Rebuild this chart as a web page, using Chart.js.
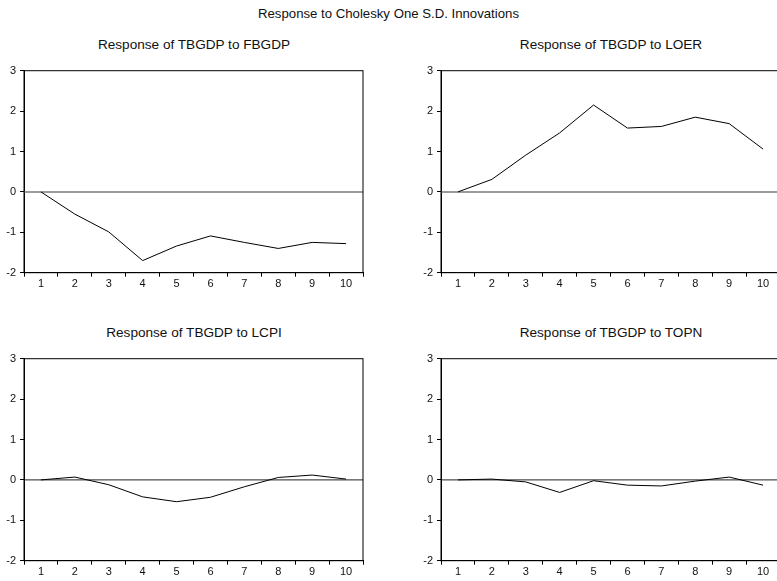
<!DOCTYPE html>
<html>
<head>
<meta charset="utf-8">
<script src="https://cdn.jsdelivr.net/npm/chart.js@4.4.1/dist/chart.umd.min.js"></script>
<style>
  html, body { margin: 0; padding: 0; background: #fff; overflow: hidden; }
  #wrap { position: relative; width: 777px; height: 581px; overflow: hidden; }
  #main-title { position: absolute; left: 0; top: 6px; width: 777px; text-align: center;
    font: 13.2px "Liberation Sans", Arial, sans-serif; color: #111; }
  .ptitle { position: absolute; width: 340px; text-align: center;
    font: 13.6px/16px "Liberation Sans", Arial, sans-serif; color: #111; white-space: nowrap; }
  canvas { position: absolute; }
</style>
</head>
<body>
<div id="wrap">
  <div id="main-title">Response to Cholesky One S.D. Innovations</div>
  <div class="ptitle" style="left:24px;top:37px">Response of TBGDP to FBGDP</div>
  <div class="ptitle" style="left:441px;top:37px">Response of TBGDP to LOER</div>
  <div class="ptitle" style="left:24px;top:324.5px">Response of TBGDP to LCPI</div>
  <div class="ptitle" style="left:441px;top:324.5px">Response of TBGDP to TOPN</div>
  <canvas id="c1" width="379" height="265" style="left:0;top:30px"></canvas>
  <canvas id="c2" width="379" height="265" style="left:417px;top:30px"></canvas>
  <canvas id="c3" width="379" height="265" style="left:0;top:317.6px"></canvas>
  <canvas id="c4" width="379" height="265" style="left:417px;top:317.6px"></canvas>
</div>
<script>
// периоды и значения откликов
const periods = ['1', '2', '3', '4', '5', '6', '7', '8', '9', '10'];
const respFBGDP = [0, -0.55, -0.99, -1.70, -1.34, -1.09, -1.25, -1.40, -1.25, -1.28];
const respLOER = [0, 0.31, 0.91, 1.46, 2.15, 1.58, 1.62, 1.85, 1.69, 1.06];
const respLCPI = [0, 0.07, -0.12, -0.42, -0.54, -0.43, -0.17, 0.06, 0.12, 0.02];
const respTOPN = [0, 0.02, -0.05, -0.31, -0.02, -0.13, -0.15, -0.03, 0.07, -0.13];
const yMin = -2, yMax = 3;

const FONT = '"Liberation Sans", Arial, sans-serif';

// рамка и нулевая линия
const framePlugin = {
  id: 'frame',
  beforeDatasetsDraw(chart, args, opts) {
    const { ctx, chartArea: a, scales } = chart;
    const y0 = scales.y.getPixelForValue(0);
    ctx.save();
    ctx.strokeStyle = opts.zeroColor;
    ctx.lineWidth = opts.zeroWidth;
    ctx.beginPath();
    ctx.moveTo(a.left, y0);
    ctx.lineTo(a.right, y0);
    ctx.stroke();
    ctx.restore();
  },
  afterDraw(chart) {
    const { ctx, chartArea: a } = chart;
    ctx.save();
    ctx.strokeStyle = '#000';
    ctx.lineWidth = 1;
    ctx.strokeRect(a.left, a.top, a.right - a.left, a.bottom - a.top);
    ctx.restore();
  }
};

const makePanel = (id, values, zeroColor, zeroWidth) => {
  new Chart(document.getElementById(id), {
    type: 'line',
    data: {
      labels: periods,
      datasets: [{
        data: values,
        borderColor: '#000',
        borderWidth: 1,
        pointRadius: 0,
        tension: 0,
        fill: false,
      }],
    },
    options: {
      responsive: false,
      animation: false,
      devicePixelRatio: 1,
      layout: { padding: { left: 0, right: 16, top: 40.7, bottom: 0 } },
      plugins: {
        legend: { display: false },
        tooltip: { enabled: false },
        title: { display: false },
        frame: { zeroColor, zeroWidth },
      },
      scales: {
        x: {
          offset: true,
          grid: { offset: true, drawOnChartArea: false, tickLength: 4, color: '#000' },
          border: { color: '#000' },
          ticks: { color: '#111', font: { family: FONT, size: 11 }, padding: 1, maxRotation: 0, autoSkip: false },
          afterFit: (s) => { s.height = 22.3; },
        },
        y: {
          min: yMin,
          max: yMax,
          grid: { drawOnChartArea: false, tickLength: 4, color: '#000' },
          border: { color: '#000' },
          ticks: { stepSize: 1, color: '#111', font: { family: FONT, size: 11 }, padding: 4 },
          afterFit: (s) => { s.width = 24; },
        },
      },
    },
    plugins: [framePlugin],
  });
};

makePanel('c1', respFBGDP, '#7a7a7a', 1.5);
makePanel('c2', respLOER, '#7a7a7a', 1.5);
makePanel('c3', respLCPI, '#222', 1);
makePanel('c4', respTOPN, '#222', 1);
</script>
</body>
</html>
